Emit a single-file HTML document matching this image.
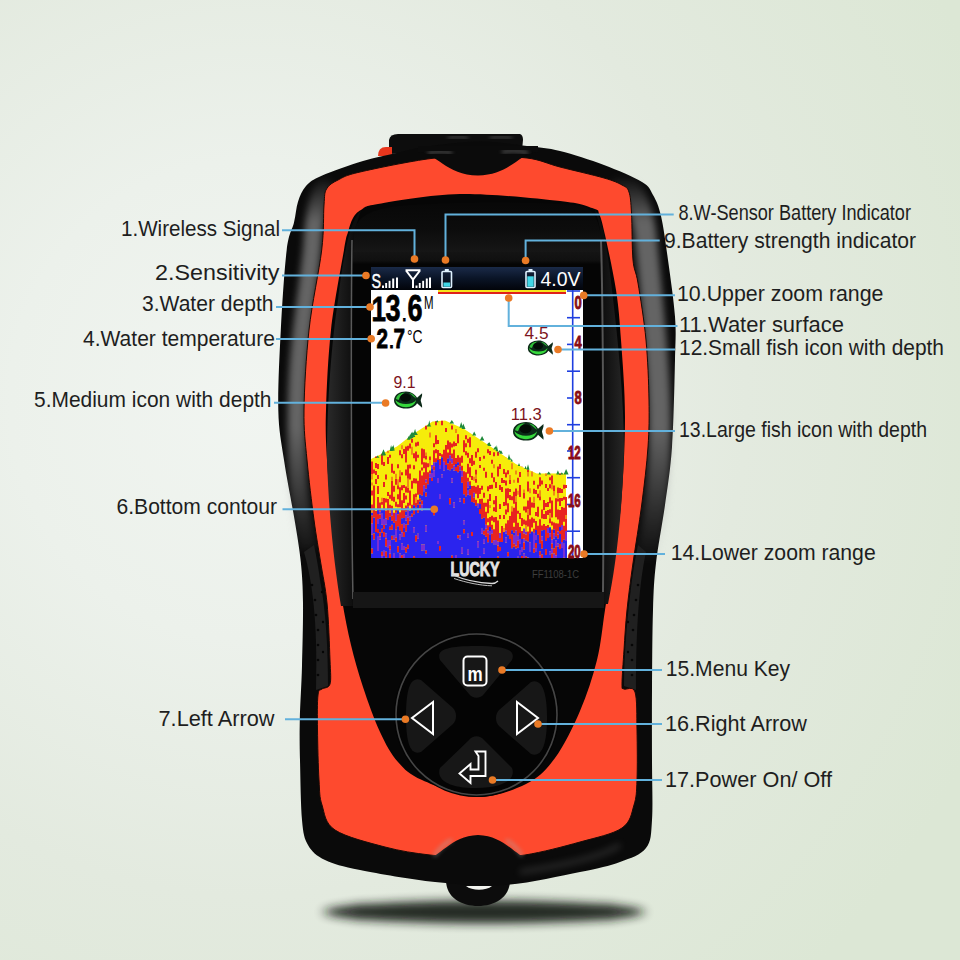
<!DOCTYPE html>
<html><head><meta charset="utf-8">
<style>
html,body{margin:0;padding:0;width:960px;height:960px;overflow:hidden;background:#e3e9df}
svg{position:absolute;left:0;top:0;display:block}
text{font-family:"Liberation Sans",sans-serif}
.lb{font-size:22.5px;fill:#1e1e1e}
.ld{stroke:#62b1dc;stroke-width:2;fill:none}
.dt{fill:#ea7a25}
</style></head><body>
<svg width="960" height="960" viewBox="0 0 960 960">
<defs>
 <radialGradient id="bg" cx="250" cy="400" r="800" gradientUnits="userSpaceOnUse">
  <stop offset="0" stop-color="#f1f5f1"/>
  <stop offset="0.3" stop-color="#ecf1eb"/>
  <stop offset="0.62" stop-color="#e3eadf"/>
  <stop offset="1" stop-color="#dce7d5"/>
 </radialGradient>
 <filter id="blur6" x="-20%" y="-200%" width="140%" height="500%"><feGaussianBlur stdDeviation="6 5"/></filter>
 <filter id="blur3" x="-50%" y="-50%" width="200%" height="200%"><feGaussianBlur stdDeviation="3.5"/></filter>
 <filter id="blur2" x="-20%" y="-20%" width="140%" height="140%"><feGaussianBlur stdDeviation="2"/></filter>
 <linearGradient id="shg" x1="0" y1="175" x2="0" y2="565" gradientUnits="userSpaceOnUse"><stop offset="0" stop-color="#a0a0a0" stop-opacity="0"/><stop offset="0.12" stop-color="#a0a0a0" stop-opacity="1"/><stop offset="0.65" stop-color="#a0a0a0" stop-opacity="1"/><stop offset="1" stop-color="#a0a0a0" stop-opacity="0"/></linearGradient>
 <linearGradient id="rimL" x1="327" y1="0" x2="353" y2="0" gradientUnits="userSpaceOnUse"><stop offset="0" stop-color="#2a2a2a"/><stop offset="1" stop-color="#0e0e0e"/></linearGradient>
 <linearGradient id="rimR" x1="603" y1="0" x2="624" y2="0" gradientUnits="userSpaceOnUse"><stop offset="0" stop-color="#0e0e0e"/><stop offset="1" stop-color="#262626"/></linearGradient>
 <linearGradient id="glass" x1="0" y1="205" x2="0" y2="600" gradientUnits="userSpaceOnUse"><stop offset="0" stop-color="#080808"/><stop offset="0.06" stop-color="#0c0c0c"/><stop offset="0.12" stop-color="#161616"/><stop offset="0.12" stop-color="#141414"/><stop offset="0.14" stop-color="#101010"/><stop offset="0.15" stop-color="#050505"/><stop offset="1" stop-color="#050505"/></linearGradient>
 <linearGradient id="sbar" x1="0" y1="0" x2="0" y2="1">
  <stop offset="0" stop-color="#1a2a48"/><stop offset="0.5" stop-color="#0a1426"/><stop offset="1" stop-color="#02040a"/>
 </linearGradient>
</defs>
<rect width="960" height="960" fill="url(#bg)"/>
<!-- shadow -->
<g filter="url(#blur6)" opacity="0.92"><ellipse cx="484" cy="912" rx="160" ry="11.5" fill="#161a14"/><rect x="350" y="904" width="268" height="16" rx="8" fill="#161a14"/></g>

<!-- device -->
<g id="device">
 <!-- lanyard loop -->
 <path d="M446,880 C446,898 462,906 478,906 C494,906 510,898 510,880 Z" fill="#0c0c0c"/>
 <path d="M466,886 C472,891 486,891 492,886 Z" fill="#f2f4ef"/>
 <!-- top clip -->
 <path d="M389,154 L389,140 Q390,134 398,134 L520,134 Q523,135 523,140 L522,150 Z" fill="#0d0d0d"/>
 <path d="M378,156 Q378,147 386,147 L392,147 L392,156 Z" fill="#e8361d"/>
 <!-- outer body -->
 <path id="body" d="M480.0,141.5 C496.9,141.4 513.7,144.4 527.0,146.0 C540.3,147.6 547.2,147.8 560.0,151.0 C572.8,154.2 590.3,159.8 604.0,165.0 C617.7,170.2 633.8,177.0 642.0,182.0 C650.2,187.0 649.8,189.3 653.0,195.0 C656.2,200.7 658.5,205.2 661.0,216.0 C663.5,226.8 665.7,243.2 668.0,260.0 C670.3,276.8 673.8,300.0 675.0,316.7 C676.2,333.4 675.5,338.3 675.0,360.0 C674.5,381.7 673.7,422.8 672.0,447.0 C670.3,471.2 667.7,485.7 665.0,505.0 C662.3,524.3 658.0,545.5 656.0,563.0 C654.0,580.5 653.7,588.8 653.0,610.0 C652.3,631.2 652.2,665.0 652.0,690.0 C651.8,715.0 652.0,738.3 652.0,760.0 C652.0,781.7 653.0,805.3 652.0,820.0 C651.0,834.7 651.3,841.0 646.0,848.0 C640.7,855.0 631.0,858.0 620.0,862.0 C609.0,866.0 599.2,868.2 580.0,872.0 C560.8,875.8 529.2,883.3 505.0,885.0 C480.8,886.7 459.2,884.5 435.0,882.0 C410.8,879.5 378.3,873.7 360.0,870.0 C341.7,866.3 333.7,864.2 325.0,860.0 C316.3,855.8 311.8,851.7 308.0,845.0 C304.2,838.3 303.3,834.2 302.0,820.0 C300.7,805.8 300.4,776.7 300.0,760.0 C299.6,743.3 299.5,735.7 299.8,720.0 C300.1,704.3 301.5,685.5 302.0,666.0 C302.5,646.5 303.2,620.3 303.0,603.0 C302.8,585.7 302.2,575.8 300.8,562.0 C299.4,548.2 297.4,537.0 294.6,520.0 C291.8,503.0 286.7,478.3 284.0,460.0 C281.3,441.7 278.8,431.7 278.3,410.0 C277.8,388.3 279.4,356.7 280.8,330.0 C282.2,303.3 284.5,267.9 286.7,250.0 C288.9,232.1 292.1,230.6 294.0,222.5 C295.9,214.4 296.0,207.8 298.0,201.7 C300.0,195.6 302.1,190.3 306.0,186.0 C309.9,181.7 312.2,180.0 321.7,175.8 C331.2,171.6 350.5,164.8 363.0,161.0 C375.5,157.2 386.2,155.4 396.7,153.0 C407.2,150.6 411.9,148.6 425.8,146.7 C439.7,144.8 463.1,141.6 480.0,141.5 Z" fill="#0a0a0a"/>
 <!-- glossy highlights on black -->
 <path d="M330,180 C318,190 314,215 312,250 C308,290 302,320 299,360 C296,400 296,440 298,480 C300,510 304,530 308,550" stroke="url(#shg)" stroke-width="18" fill="none" opacity="0.6" filter="url(#blur3)"/>
 <path d="M615,176 C635,188 643,210 646,240 C650,280 654,320 657,360 C660,400 661,440 658,480 C656,510 652,535 646,560" stroke="url(#shg)" stroke-width="22" fill="none" opacity="0.6" filter="url(#blur3)"/>
 <path d="M304,552 C312,580 318,620 316,690 L328,686 C328,650 326,610 320,580 C318,565 316,555 314,545 Z" fill="#202020"/>
 <path d="M646,552 C640,580 636,620 636,690 L624,686 C624,650 628,610 632,580 C634,565 636,555 638,545 Z" fill="#202020"/>
 <g fill="#060606"><circle cx="312" cy="585" r="1.3"/><circle cx="315" cy="600" r="1.3"/><circle cx="316" cy="615" r="1.3"/><circle cx="318" cy="630" r="1.3"/><circle cx="318" cy="645" r="1.3"/><circle cx="318" cy="660" r="1.3"/><circle cx="318" cy="675" r="1.3"/><circle cx="322" cy="592" r="1.2"/><circle cx="323" cy="622" r="1.2"/><circle cx="323" cy="652" r="1.2"/>
 <circle cx="638" cy="585" r="1.3"/><circle cx="636" cy="600" r="1.3"/><circle cx="634" cy="615" r="1.3"/><circle cx="633" cy="630" r="1.3"/><circle cx="632" cy="645" r="1.3"/><circle cx="632" cy="660" r="1.3"/><circle cx="632" cy="675" r="1.3"/><circle cx="629" cy="592" r="1.2"/><circle cx="628" cy="622" r="1.2"/><circle cx="628" cy="652" r="1.2"/></g>
 <path d="M620,845 C600,858 560,866 520,872" stroke="#777" stroke-width="4" fill="none" opacity="0.35" filter="url(#blur3)"/>
 <!-- red frame -->
 <path id="red" d="M478.0,157.0 C494.0,156.9 513.3,156.3 527.0,158.0 C540.7,159.7 547.2,163.7 560.0,167.0 C572.8,170.3 593.7,175.0 604.0,178.0 C614.3,181.0 617.8,182.7 622.0,185.0 C626.2,187.3 627.4,187.3 629.0,192.0 C630.6,196.7 630.8,201.7 631.5,213.0 C632.2,224.3 631.9,248.3 633.0,260.0 C634.1,271.7 635.8,269.7 638.0,283.0 C640.2,296.3 644.2,320.5 646.0,340.0 C647.8,359.5 648.7,382.2 649.0,400.0 C649.3,417.8 649.2,429.5 648.0,447.0 C646.8,464.5 644.2,485.7 641.7,505.0 C639.2,524.3 635.5,545.5 633.0,563.0 C630.5,580.5 628.5,595.5 627.0,610.0 C625.5,624.5 624.8,637.7 624.0,650.0 C623.2,662.3 622.0,677.5 622.0,684.0 C622.0,690.5 621.8,687.7 624.0,689.0 C626.2,690.3 632.8,685.2 635.0,692.0 C637.2,698.8 636.7,715.3 637.0,730.0 C637.3,744.7 637.5,767.5 637.0,780.0 C636.5,792.5 636.5,797.0 634.0,805.0 C631.5,813.0 631.0,821.8 622.0,828.0 C613.0,834.2 596.2,837.5 580.0,842.0 C563.8,846.5 542.0,852.3 525.0,855.0 C508.0,857.7 493.8,858.0 478.0,858.0 C462.2,858.0 445.5,856.8 430.0,855.0 C414.5,853.2 400.8,851.2 385.0,847.0 C369.2,842.8 345.5,837.0 335.0,830.0 C324.5,823.0 324.7,813.3 322.0,805.0 C319.3,796.7 319.8,792.5 319.0,780.0 C318.2,767.5 317.7,744.2 317.5,730.0 C317.3,715.8 317.2,701.8 318.0,695.0 C318.8,688.2 320.0,690.8 322.0,689.0 C324.0,687.2 328.7,688.8 330.0,684.0 C331.3,679.2 330.5,673.5 330.0,660.0 C329.5,646.5 328.6,619.3 327.0,603.0 C325.4,586.7 322.8,575.8 320.6,562.0 C318.4,548.2 316.3,537.0 314.0,520.0 C311.7,503.0 308.7,478.3 307.0,460.0 C305.3,441.7 303.7,431.7 304.0,410.0 C304.3,388.3 306.1,356.7 309.0,330.0 C311.9,303.3 319.2,270.8 321.7,250.0 C324.2,229.2 323.2,215.2 324.0,205.0 C324.8,194.8 324.2,193.2 326.5,189.0 C328.8,184.8 332.4,182.8 338.0,180.0 C343.6,177.2 344.5,175.6 360.0,172.0 C375.5,168.4 411.3,161.0 431.0,158.5 C450.7,156.0 462.0,157.1 478.0,157.0 Z" fill="#fe4a2e" stroke="#1a0a06" stroke-width="1"/>
 <!-- red bottom shading -->
 <!-- inner black (screen surround + keypad) -->
 <path id="inner" d="M460.0,194.0 C490.3,193.5 537.8,198.6 560.0,201.0 C582.2,203.4 586.9,206.3 593.5,208.5 C600.1,210.7 597.5,210.0 599.4,214.4 C601.3,218.8 602.2,222.4 605.0,235.0 C607.8,247.6 613.3,272.5 616.0,290.0 C618.7,307.5 619.5,318.8 621.0,340.0 C622.5,361.2 625.0,390.0 625.0,417.5 C625.0,445.0 623.1,480.8 621.0,505.0 C618.9,529.2 615.2,545.5 612.5,563.0 C609.8,580.5 607.6,593.8 605.0,610.0 C602.4,626.2 601.2,643.2 597.0,660.0 C592.8,676.8 587.0,694.7 580.0,711.0 C573.0,727.3 564.0,745.8 555.0,758.0 C546.0,770.2 539.2,777.5 526.0,784.0 C512.8,790.5 493.3,797.7 476.0,797.0 C458.7,796.3 435.0,785.8 422.0,780.0 C409.0,774.2 405.0,770.0 398.0,762.0 C391.0,754.0 385.8,744.5 380.0,732.0 C374.2,719.5 367.8,701.5 363.0,687.0 C358.2,672.5 354.4,659.0 351.0,645.0 C347.6,631.0 345.0,616.8 342.5,603.0 C340.0,589.2 337.8,575.8 336.0,562.0 C334.2,548.2 333.5,537.0 332.0,520.0 C330.5,503.0 328.0,478.3 327.0,460.0 C326.0,441.7 325.3,431.7 326.0,410.0 C326.7,388.3 328.0,356.7 331.0,330.0 C334.0,303.3 341.2,266.3 344.0,250.0 C346.8,233.7 346.5,237.3 348.0,232.0 C349.5,226.7 350.8,221.7 353.0,218.0 C355.2,214.3 356.8,212.3 361.0,210.0 C365.2,207.7 361.5,206.7 378.0,204.0 C394.5,201.3 429.7,194.5 460.0,194.0 Z" fill="#060606"/>
 <!-- bezel rims -->
 <path d="M361,210 C350,222 344,250 338,300 C332,340 327,400 327,460 C329,520 335,570 341,606 L353,606 C352,560 351,270 354,232 Z" fill="url(#rimL)"/>
 <path d="M594,209 C601,215 606,235 612,290 C618,340 624,400 624,450 C622,520 615,570 608,604 L603,604 C605,560 604,300 602,245 C600,222 596,212 594,209 Z" fill="url(#rimR)"/>
 <!-- top notch -->
 <path d="M418,152 C436,152 446,175.5 478,175.5 C510,175.5 520,152 538,152 L538,146 L418,146 Z" fill="#0b0b0b"/>
 <path d="M428,153 Q440,150 452,153" stroke="#888" stroke-width="2.5" fill="none" opacity="0.7" filter="url(#blur2)"/>
 <path d="M394,138 L394,148" stroke="#999" stroke-width="2" opacity="0.5" filter="url(#blur2)"/>
 <path d="M448,138 Q458,136 468,138 M490,138 Q500,136 512,138" stroke="#aaa" stroke-width="2" fill="none" opacity="0.5" filter="url(#blur2)"/>
 <path d="M502,152 Q516,149 528,153" stroke="#888" stroke-width="2.5" fill="none" opacity="0.7" filter="url(#blur2)"/>
 <!-- bottom hump -->
 <path d="M424,860 C440,858 450,836 478,835 C506,836 516,858 532,860 Z" fill="#0b0b0b"/>
 <path d="M434,856 C440,848 446,842 452,840" stroke="#aaa" stroke-width="3" fill="none" opacity="0.55" filter="url(#blur2)"/>
 <path d="M506,840 C512,843 518,849 522,856" stroke="#aaa" stroke-width="3" fill="none" opacity="0.55" filter="url(#blur2)"/>
 <!-- screen glass -->
 <path d="M354,232 C357,216 372,209 400,206 C470,201 555,202 582,206 C594,209 600,222 602,245 C604,300 605,560 604,592 L353,599 C352,560 351,270 354,232 Z" fill="url(#glass)"/>
 <path d="M352,240 C351,300 351,500 353,599" stroke="#5a5a5a" stroke-width="1.5" fill="none"/>
 <path d="M601,240 C603,300 604,500 603,594" stroke="#6a6a6a" stroke-width="2" fill="none" opacity="0.8"/>
 <rect x="353" y="592" width="251" height="16" fill="#161616"/>
 <!-- display -->
 <rect x="371" y="267" width="212" height="23" fill="url(#sbar)"/>
 <rect x="371" y="290" width="212" height="268" fill="#ffffff"/>
 <g id="sonar">
<polygon points="371,459 397,446.5 411.7,435 432.5,421.5 445,420.4 463.75,428.75 495,449.6 515.8,464 536.7,473.5 566,473.5 566,558 371,558" fill="#f6ec0a"/>
<path fill="#e82420" d="M371 461.5h2v3.0h-2zM371 464.5h2v5.0h-2zM371 469.5h2v5.0h-2zM371 490.5h2v5.0h-2zM371 504.5h2v5.0h-2zM371 515.5h2v4.0h-2zM371 519.5h2v4.0h-2zM371 548.5h2v5.0h-2zM373 469.6h2v4.0h-2zM373 485.6h2v3.0h-2zM373 488.6h2v5.0h-2zM373 493.6h2v4.0h-2zM373 497.6h2v5.0h-2zM373 502.6h2v6.0h-2zM373 508.6h2v5.0h-2zM373 513.6h2v4.0h-2zM373 533.6h2v6.0h-2zM375 456.6h2v1.3h-2zM375 462.9h2v5.0h-2zM375 470.9h2v4.0h-2zM375 478.9h2v5.0h-2zM375 510.9h2v4.0h-2zM375 514.9h2v4.0h-2zM375 518.9h2v4.0h-2zM375 522.9h2v5.0h-2zM375 527.9h2v4.0h-2zM377 464.0h2v5.0h-2zM377 475.0h2v4.0h-2zM377 486.0h2v3.0h-2zM377 489.0h2v5.0h-2zM377 497.0h2v5.0h-2zM377 502.0h2v4.0h-2zM377 506.0h2v4.0h-2zM377 514.0h2v5.0h-2zM377 529.0h2v4.0h-2zM379 502.6h2v4.0h-2zM379 506.6h2v5.0h-2zM379 514.6h2v4.0h-2zM379 532.6h2v4.0h-2zM381 453.7h2v5.0h-2zM381 458.7h2v6.0h-2zM381 501.7h2v3.0h-2zM381 528.7h2v4.0h-2zM381 551.7h2v4.0h-2zM383 462.0h2v4.0h-2zM383 482.0h2v5.0h-2zM383 498.0h2v4.0h-2zM383 502.0h2v5.0h-2zM383 507.0h2v3.0h-2zM383 525.0h2v4.0h-2zM383 532.0h2v5.0h-2zM385 474.4h2v5.0h-2zM385 498.4h2v4.0h-2zM385 510.4h2v3.0h-2zM385 513.4h2v5.0h-2zM385 538.4h2v4.0h-2zM385 542.4h2v4.0h-2zM385 551.4h2v6.0h-2zM387 456.9h2v3.0h-2zM387 459.9h2v4.0h-2zM387 491.9h2v4.0h-2zM387 498.9h2v4.0h-2zM387 502.9h2v3.0h-2zM387 505.9h2v3.0h-2zM387 508.9h2v4.0h-2zM387 512.9h2v4.0h-2zM387 516.9h2v3.0h-2zM389 454.8h2v3.0h-2zM389 494.8h2v4.0h-2zM389 504.8h2v4.0h-2zM389 512.8h2v4.0h-2zM389 526.8h2v3.0h-2zM389 545.8h2v4.0h-2zM389 553.8h2v4.2h-2zM391 463.8h2v4.0h-2zM391 467.8h2v5.0h-2zM391 480.8h2v3.0h-2zM391 483.8h2v3.0h-2zM391 486.8h2v5.0h-2zM391 491.8h2v3.0h-2zM391 494.8h2v6.0h-2zM391 505.8h2v4.0h-2zM391 515.8h2v5.0h-2zM391 524.8h2v5.0h-2zM391 535.8h2v4.0h-2zM393 470.7h2v3.0h-2zM393 485.7h2v6.0h-2zM393 496.7h2v5.0h-2zM393 512.7h2v5.0h-2zM393 517.7h2v5.0h-2zM395 478.8h2v6.0h-2zM395 501.8h2v5.0h-2zM395 509.8h2v3.0h-2zM395 520.8h2v5.0h-2zM395 525.8h2v4.0h-2zM395 537.8h2v4.0h-2zM397 464.2h2v4.0h-2zM397 485.2h2v4.0h-2zM397 494.2h2v5.0h-2zM397 504.2h2v3.0h-2zM397 514.2h2v4.0h-2zM397 518.2h2v4.0h-2zM397 522.2h2v4.0h-2zM397 546.2h2v6.0h-2zM399 450.3h2v5.0h-2zM399 476.3h2v6.0h-2zM399 487.3h2v5.0h-2zM399 492.3h2v6.0h-2zM399 498.3h2v4.0h-2zM399 502.3h2v5.0h-2zM399 512.3h2v5.0h-2zM399 517.3h2v5.0h-2zM399 522.3h2v3.0h-2zM399 525.3h2v5.0h-2zM401 454.3h2v4.0h-2zM401 472.3h2v3.0h-2zM401 485.3h2v5.0h-2zM401 500.3h2v5.0h-2zM401 505.3h2v3.0h-2zM401 508.3h2v4.0h-2zM401 512.3h2v6.0h-2zM401 524.3h2v5.0h-2zM401 529.3h2v3.0h-2zM401 555.3h2v2.7h-2zM403 449.1h2v5.0h-2zM403 485.1h2v3.0h-2zM403 493.1h2v6.0h-2zM403 499.1h2v4.0h-2zM403 508.1h2v4.0h-2zM403 512.1h2v6.0h-2zM403 532.1h2v5.0h-2zM405 446.6h2v6.0h-2zM405 452.6h2v5.0h-2zM405 457.6h2v5.0h-2zM405 469.6h2v6.0h-2zM405 486.6h2v6.0h-2zM405 495.6h2v4.0h-2zM405 505.6h2v6.0h-2zM405 524.6h2v3.0h-2zM405 527.6h2v4.0h-2zM405 547.6h2v5.0h-2zM407 445.8h2v5.0h-2zM407 464.8h2v5.0h-2zM407 469.8h2v3.0h-2zM407 472.8h2v6.0h-2zM407 487.8h2v5.0h-2zM407 502.8h2v4.0h-2zM407 517.8h2v3.0h-2zM407 520.8h2v4.0h-2zM407 544.8h2v4.0h-2zM409 443.5h2v5.0h-2zM409 464.5h2v4.0h-2zM409 473.5h2v3.0h-2zM409 476.5h2v3.0h-2zM409 490.5h2v4.0h-2zM409 494.5h2v5.0h-2zM409 499.5h2v6.0h-2zM411 434.8h2v0.0h-2zM411 438.8h2v4.0h-2zM411 480.8h2v4.0h-2zM411 484.8h2v4.0h-2zM411 504.8h2v5.0h-2zM411 513.8h2v3.0h-2zM413 453.3h2v5.0h-2zM413 465.3h2v4.0h-2zM413 478.3h2v5.0h-2zM413 494.3h2v4.0h-2zM413 498.3h2v4.0h-2zM413 502.3h2v3.0h-2zM413 510.3h2v4.0h-2zM413 556.3h2v1.7h-2zM415 442.4h2v4.0h-2zM415 451.4h2v6.0h-2zM415 457.4h2v4.0h-2zM415 478.4h2v5.0h-2zM415 493.4h2v4.0h-2zM415 502.4h2v5.0h-2zM415 535.4h2v6.0h-2zM417 441.7h2v4.0h-2zM417 454.7h2v3.0h-2zM417 480.7h2v4.0h-2zM417 484.7h2v5.0h-2zM417 489.7h2v5.0h-2zM417 499.7h2v5.0h-2zM417 508.7h2v4.0h-2zM419 470.4h2v6.0h-2zM419 476.4h2v4.0h-2zM419 480.4h2v6.0h-2zM419 486.4h2v5.0h-2zM419 491.4h2v3.0h-2zM419 498.4h2v3.0h-2zM419 504.4h2v4.0h-2zM421 448.4h2v4.0h-2zM421 452.4h2v3.0h-2zM421 455.4h2v5.0h-2zM421 460.4h2v4.0h-2zM421 467.4h2v3.0h-2zM421 475.4h2v4.0h-2zM421 479.4h2v4.0h-2zM421 483.4h2v6.0h-2zM421 489.4h2v6.0h-2zM421 500.4h2v4.0h-2zM423 449.2h2v4.0h-2zM423 453.2h2v5.0h-2zM423 462.2h2v6.0h-2zM423 472.2h2v4.0h-2zM423 476.2h2v5.0h-2zM423 481.2h2v4.0h-2zM425 425.7h2v3.9h-2zM425 455.6h2v4.0h-2zM425 462.6h2v6.0h-2zM425 468.6h2v6.0h-2zM425 474.6h2v5.0h-2zM425 482.6h2v6.0h-2zM425 492.6h2v4.0h-2zM425 550.6h2v3.0h-2zM427 463.3h2v4.0h-2zM427 472.3h2v6.0h-2zM427 478.3h2v6.0h-2zM429 456.4h2v4.0h-2zM429 470.4h2v3.0h-2zM431 477.9h2v3.0h-2zM433 443.3h2v4.0h-2zM433 450.3h2v6.0h-2zM433 456.3h2v6.0h-2zM433 466.3h2v4.0h-2zM433 510.3h2v5.0h-2zM435 421.2h2v4.0h-2zM435 435.2h2v5.0h-2zM435 440.2h2v4.0h-2zM435 449.2h2v4.0h-2zM435 458.2h2v4.0h-2zM437 440.1h2v4.0h-2zM437 450.1h2v4.0h-2zM437 454.1h2v6.0h-2zM439 453.0h2v3.0h-2zM439 459.0h2v6.0h-2zM439 546.0h2v5.0h-2zM441 420.7h2v4.6h-2zM441 454.3h2v3.0h-2zM443 449.7h2v4.0h-2zM443 453.7h2v5.0h-2zM443 458.7h2v3.0h-2zM445 428.1h2v4.0h-2zM445 445.1h2v4.0h-2zM445 449.1h2v3.0h-2zM445 452.1h2v5.0h-2zM445 457.1h2v3.0h-2zM445 460.1h2v5.0h-2zM447 440.6h2v5.0h-2zM447 445.6h2v4.0h-2zM447 452.6h2v6.0h-2zM447 463.6h2v6.0h-2zM449 442.2h2v3.0h-2zM449 445.2h2v5.0h-2zM449 450.2h2v5.0h-2zM449 461.2h2v5.0h-2zM449 466.2h2v4.0h-2zM449 498.2h2v6.0h-2zM451 425.4h2v4.0h-2zM451 443.4h2v4.0h-2zM451 453.4h2v5.0h-2zM451 463.4h2v5.0h-2zM451 555.4h2v2.6h-2zM453 441.6h2v5.0h-2zM453 449.6h2v3.0h-2zM453 452.6h2v5.0h-2zM453 457.6h2v5.0h-2zM453 462.6h2v3.0h-2zM455 443.0h2v3.0h-2zM455 458.0h2v6.0h-2zM455 467.0h2v4.0h-2zM457 434.2h2v5.0h-2zM457 439.2h2v4.0h-2zM457 455.2h2v4.0h-2zM457 459.2h2v3.0h-2zM457 465.2h2v4.0h-2zM457 469.2h2v3.0h-2zM457 535.2h2v3.0h-2zM459 457.5h2v5.0h-2zM459 462.5h2v4.0h-2zM461 455.8h2v3.0h-2zM461 458.8h2v4.0h-2zM461 465.8h2v5.0h-2zM461 476.8h2v6.0h-2zM463 440.3h2v4.0h-2zM463 444.3h2v5.0h-2zM463 449.3h2v3.0h-2zM463 471.3h2v4.0h-2zM463 475.3h2v4.0h-2zM463 479.3h2v4.0h-2zM463 483.3h2v6.0h-2zM463 489.3h2v5.0h-2zM463 498.3h2v5.0h-2zM463 529.3h2v4.0h-2zM465 435.3h2v4.0h-2zM465 443.3h2v4.0h-2zM465 451.3h2v4.0h-2zM465 472.3h2v4.0h-2zM465 476.3h2v5.0h-2zM465 481.3h2v4.0h-2zM465 485.3h2v5.0h-2zM465 490.3h2v6.0h-2zM467 438.8h2v4.0h-2zM467 452.8h2v5.0h-2zM467 463.8h2v4.0h-2zM467 467.8h2v6.0h-2zM467 477.8h2v4.0h-2zM469 437.2h2v6.0h-2zM469 443.2h2v4.0h-2zM469 458.2h2v5.0h-2zM469 467.2h2v4.0h-2zM469 471.2h2v6.0h-2zM469 481.2h2v4.0h-2zM469 489.2h2v6.0h-2zM471 455.0h2v5.0h-2zM471 460.0h2v6.0h-2zM471 476.0h2v4.0h-2zM471 486.0h2v5.0h-2zM471 491.0h2v5.0h-2zM471 496.0h2v6.0h-2zM471 532.0h2v4.0h-2zM473 460.7h2v4.0h-2zM473 485.7h2v4.0h-2zM473 489.7h2v3.0h-2zM473 497.7h2v5.0h-2zM475 451.8h2v6.0h-2zM475 469.8h2v5.0h-2zM475 478.8h2v4.0h-2zM475 486.8h2v4.0h-2zM475 490.8h2v3.0h-2zM475 499.8h2v6.0h-2zM477 448.2h2v4.0h-2zM477 485.2h2v5.0h-2zM477 490.2h2v3.0h-2zM477 493.2h2v5.0h-2zM479 456.9h2v4.0h-2zM479 464.9h2v3.0h-2zM479 487.9h2v6.0h-2zM479 498.9h2v5.0h-2zM479 508.9h2v5.0h-2zM481 485.8h2v4.0h-2zM481 498.8h2v6.0h-2zM481 504.8h2v5.0h-2zM481 509.8h2v4.0h-2zM481 513.8h2v5.0h-2zM483 455.8h2v3.0h-2zM483 467.8h2v3.0h-2zM483 492.8h2v5.0h-2zM483 502.8h2v4.0h-2zM483 506.8h2v4.0h-2zM483 510.8h2v4.0h-2zM483 514.8h2v3.0h-2zM483 530.8h2v4.0h-2zM485 471.8h2v6.0h-2zM485 502.8h2v4.0h-2zM485 511.8h2v4.0h-2zM485 515.8h2v4.0h-2zM485 519.8h2v5.0h-2zM485 528.8h2v4.0h-2zM485 532.8h2v4.0h-2zM487 449.2h2v4.0h-2zM487 486.2h2v5.0h-2zM487 499.2h2v4.0h-2zM487 503.2h2v5.0h-2zM487 508.2h2v5.0h-2zM487 518.2h2v4.0h-2zM487 525.2h2v5.0h-2zM487 533.2h2v5.0h-2zM487 538.2h2v4.0h-2zM489 451.0h2v4.0h-2zM489 485.0h2v4.0h-2zM489 494.0h2v4.0h-2zM489 498.0h2v3.0h-2zM489 517.0h2v5.0h-2zM489 522.0h2v5.0h-2zM491 459.8h2v4.0h-2zM491 472.8h2v5.0h-2zM491 484.8h2v4.0h-2zM491 515.8h2v5.0h-2zM491 524.8h2v5.0h-2zM491 533.8h2v3.0h-2zM491 536.8h2v6.0h-2zM493 452.2h2v4.0h-2zM493 477.2h2v5.0h-2zM493 500.2h2v4.0h-2zM493 507.2h2v4.0h-2zM493 517.2h2v5.0h-2zM493 529.2h2v6.0h-2zM493 535.2h2v5.0h-2zM495 482.1h2v6.0h-2zM495 496.1h2v6.0h-2zM495 502.1h2v3.0h-2zM495 505.1h2v4.0h-2zM495 509.1h2v3.0h-2zM495 517.1h2v5.0h-2zM495 522.1h2v4.0h-2zM495 526.1h2v5.0h-2zM495 531.1h2v6.0h-2zM495 537.1h2v3.0h-2zM497 451.7h2v4.0h-2zM497 466.6h2v4.0h-2zM497 470.6h2v6.0h-2zM497 520.6h2v6.0h-2zM497 526.6h2v5.0h-2zM497 531.6h2v4.0h-2zM497 535.6h2v6.0h-2zM497 545.6h2v6.0h-2zM497 556.6h2v1.4h-2zM499 464.0h2v5.0h-2zM499 485.0h2v5.0h-2zM499 504.0h2v5.0h-2zM499 515.0h2v4.0h-2zM499 538.0h2v4.0h-2zM499 547.0h2v4.0h-2zM501 478.0h2v5.0h-2zM501 487.0h2v5.0h-2zM501 526.0h2v5.0h-2zM501 531.0h2v6.0h-2zM501 537.0h2v5.0h-2zM503 469.1h2v5.0h-2zM503 480.1h2v3.0h-2zM503 502.1h2v4.0h-2zM503 515.1h2v4.0h-2zM505 472.5h2v5.0h-2zM505 480.5h2v5.0h-2zM505 488.5h2v6.0h-2zM505 494.5h2v5.0h-2zM505 499.5h2v6.0h-2zM505 509.5h2v5.0h-2zM505 523.5h2v3.0h-2zM505 526.5h2v4.0h-2zM507 470.2h2v4.0h-2zM507 488.2h2v6.0h-2zM507 494.2h2v4.0h-2zM507 503.2h2v5.0h-2zM507 508.2h2v4.0h-2zM507 520.2h2v6.0h-2zM507 526.2h2v5.0h-2zM507 531.2h2v4.0h-2zM507 552.2h2v4.0h-2zM509 480.1h2v4.0h-2zM509 489.1h2v3.0h-2zM509 495.1h2v5.0h-2zM509 516.1h2v6.0h-2zM509 522.1h2v4.0h-2zM509 526.1h2v4.0h-2zM509 530.1h2v6.0h-2zM509 536.1h2v3.0h-2zM511 496.3h2v4.0h-2zM511 511.3h2v4.0h-2zM511 515.3h2v6.0h-2zM511 521.3h2v6.0h-2zM511 527.3h2v3.0h-2zM511 534.3h2v5.0h-2zM511 539.3h2v5.0h-2zM511 544.3h2v4.0h-2zM513 491.7h2v4.0h-2zM513 495.7h2v5.0h-2zM513 500.7h2v3.0h-2zM513 507.7h2v3.0h-2zM513 510.7h2v4.0h-2zM513 514.7h2v4.0h-2zM513 518.7h2v4.0h-2zM513 526.7h2v6.0h-2zM513 543.7h2v3.0h-2zM515 488.6h2v4.0h-2zM515 492.6h2v4.0h-2zM515 501.6h2v5.0h-2zM515 506.6h2v5.0h-2zM515 511.6h2v5.0h-2zM515 516.6h2v5.0h-2zM515 521.6h2v4.0h-2zM515 525.6h2v5.0h-2zM515 545.6h2v3.0h-2zM517 477.7h2v5.0h-2zM517 510.7h2v3.0h-2zM517 522.7h2v4.0h-2zM517 526.7h2v5.0h-2zM517 531.7h2v4.0h-2zM517 540.7h2v3.0h-2zM517 543.7h2v4.0h-2zM519 472.1h2v5.0h-2zM519 485.1h2v6.0h-2zM519 491.1h2v6.0h-2zM519 513.1h2v6.0h-2zM519 527.1h2v6.0h-2zM521 466.8h2v0.2h-2zM521 518.0h2v4.0h-2zM521 522.0h2v4.0h-2zM521 531.0h2v3.0h-2zM521 534.0h2v5.0h-2zM521 556.0h2v2.0h-2zM523 492.5h2v6.0h-2zM523 506.5h2v4.0h-2zM523 519.5h2v5.0h-2zM523 533.5h2v5.0h-2zM523 542.5h2v3.0h-2zM523 545.5h2v4.0h-2zM525 506.6h2v6.0h-2zM525 520.6h2v5.0h-2zM525 534.6h2v6.0h-2zM525 556.6h2v1.4h-2zM527 469.5h2v3.0h-2zM527 481.6h2v5.0h-2zM527 486.6h2v5.0h-2zM527 500.6h2v4.0h-2zM527 504.6h2v5.0h-2zM527 514.6h2v6.0h-2zM527 520.6h2v6.0h-2zM527 531.6h2v6.0h-2zM527 537.6h2v4.0h-2zM529 497.2h2v5.0h-2zM529 502.2h2v4.0h-2zM529 506.2h2v4.0h-2zM529 510.2h2v5.0h-2zM529 519.2h2v5.0h-2zM529 524.2h2v5.0h-2zM529 529.2h2v4.0h-2zM531 502.5h2v5.0h-2zM531 517.5h2v6.0h-2zM531 523.5h2v4.0h-2zM533 480.7h2v4.0h-2zM533 488.7h2v5.0h-2zM533 502.7h2v5.0h-2zM533 518.7h2v4.0h-2zM533 528.7h2v4.0h-2zM533 548.7h2v4.0h-2zM535 490.0h2v4.0h-2zM535 512.0h2v4.0h-2zM535 521.0h2v4.0h-2zM535 525.0h2v5.0h-2zM535 543.0h2v5.0h-2zM537 484.8h2v4.0h-2zM537 493.8h2v4.0h-2zM537 506.8h2v5.0h-2zM537 511.8h2v5.0h-2zM537 525.8h2v5.0h-2zM537 530.8h2v4.0h-2zM539 477.2h2v4.0h-2zM539 481.2h2v5.0h-2zM539 496.2h2v4.0h-2zM539 519.2h2v3.0h-2zM539 522.2h2v4.0h-2zM539 526.2h2v6.0h-2zM539 532.2h2v6.0h-2zM539 538.2h2v5.0h-2zM539 551.2h2v4.0h-2zM541 480.4h2v4.0h-2zM541 509.4h2v5.0h-2zM541 514.4h2v4.0h-2zM541 525.4h2v5.0h-2zM541 540.4h2v5.0h-2zM541 545.4h2v3.0h-2zM541 554.4h2v3.6h-2zM543 500.1h2v3.0h-2zM543 503.1h2v4.0h-2zM543 507.1h2v3.0h-2zM543 514.1h2v5.0h-2zM543 524.1h2v6.0h-2zM545 484.1h2v4.0h-2zM545 503.1h2v4.0h-2zM545 511.1h2v3.0h-2zM545 514.1h2v5.0h-2zM545 526.1h2v6.0h-2zM545 532.1h2v5.0h-2zM545 537.1h2v4.0h-2zM545 549.1h2v6.0h-2zM547 488.0h2v3.0h-2zM547 502.0h2v5.0h-2zM547 510.0h2v5.0h-2zM547 525.0h2v3.0h-2zM547 533.0h2v5.0h-2zM549 477.2h2v3.0h-2zM549 484.2h2v4.0h-2zM549 497.2h2v3.0h-2zM549 500.2h2v3.0h-2zM549 509.2h2v4.0h-2zM549 518.2h2v5.0h-2zM551 475.4h2v4.0h-2zM551 479.4h2v5.0h-2zM551 500.4h2v4.0h-2zM551 504.4h2v4.0h-2zM551 508.4h2v5.0h-2zM551 513.4h2v4.0h-2zM551 521.4h2v4.0h-2zM551 529.4h2v3.0h-2zM551 532.4h2v3.0h-2zM551 535.4h2v4.0h-2zM551 543.4h2v5.0h-2zM551 553.4h2v4.6h-2zM553 485.5h2v6.0h-2zM553 522.5h2v4.0h-2zM553 526.5h2v3.0h-2zM553 548.5h2v5.0h-2zM555 498.3h2v5.0h-2zM555 503.3h2v3.0h-2zM555 506.3h2v5.0h-2zM555 511.3h2v6.0h-2zM555 523.3h2v5.0h-2zM555 528.3h2v4.0h-2zM555 532.3h2v4.0h-2zM555 546.3h2v5.0h-2zM555 551.3h2v4.0h-2zM557 487.5h2v6.0h-2zM557 498.5h2v3.0h-2zM557 509.5h2v4.0h-2zM557 513.5h2v6.0h-2zM557 523.5h2v4.0h-2zM557 527.5h2v4.0h-2zM557 534.5h2v4.0h-2zM559 473.5h2v1.6h-2zM559 488.1h2v5.0h-2zM559 498.1h2v5.0h-2zM559 503.1h2v3.0h-2zM559 510.1h2v5.0h-2zM559 515.1h2v3.0h-2zM559 518.1h2v4.0h-2zM559 522.1h2v5.0h-2zM559 531.1h2v3.0h-2zM559 544.1h2v5.0h-2zM561 489.0h2v4.0h-2zM561 498.0h2v3.0h-2zM561 507.0h2v3.0h-2zM561 510.0h2v5.0h-2zM561 515.0h2v4.0h-2zM561 519.0h2v6.0h-2zM561 530.0h2v6.0h-2zM561 536.0h2v6.0h-2zM563 484.8h2v4.0h-2zM563 496.8h2v3.0h-2zM563 507.8h2v5.0h-2zM563 512.8h2v3.0h-2zM563 515.8h2v6.0h-2zM563 525.8h2v4.0h-2zM563 529.8h2v4.0h-2zM563 533.8h2v6.0h-2zM563 557.8h2v0.2h-2zM565 485.0h2v3.0h-2zM565 497.0h2v6.0h-2zM565 503.0h2v4.0h-2zM565 507.0h2v3.0h-2zM565 510.0h2v5.0h-2zM565 519.0h2v4.0h-2zM565 523.0h2v3.0h-2zM565 526.0h2v5.0h-2z"/>
<path fill="#2b24ee" d="M371 512.5h2v3.0h-2zM371 534.5h2v5.0h-2zM371 539.5h2v4.0h-2zM371 543.5h2v5.0h-2zM371 553.5h2v4.0h-2zM371 557.5h2v0.5h-2zM373 517.6h2v4.0h-2zM373 521.6h2v5.0h-2zM373 526.6h2v3.0h-2zM373 529.6h2v4.0h-2zM373 539.6h2v6.0h-2zM373 545.6h2v6.0h-2zM373 551.6h2v6.0h-2zM373 557.6h2v0.4h-2zM375 531.9h2v5.0h-2zM375 536.9h2v5.0h-2zM375 541.9h2v4.0h-2zM375 545.9h2v5.0h-2zM375 550.9h2v6.0h-2zM375 556.9h2v1.1h-2zM377 510.0h2v4.0h-2zM377 524.0h2v5.0h-2zM377 533.0h2v3.0h-2zM377 551.0h2v5.0h-2zM377 556.0h2v2.0h-2zM379 518.6h2v4.0h-2zM379 522.6h2v4.0h-2zM379 526.6h2v6.0h-2zM379 539.6h2v4.0h-2zM379 543.6h2v5.0h-2zM379 548.6h2v5.0h-2zM379 553.6h2v4.4h-2zM381 509.7h2v4.0h-2zM381 524.7h2v4.0h-2zM381 532.7h2v6.0h-2zM381 538.7h2v5.0h-2zM381 543.7h2v4.0h-2zM381 547.7h2v4.0h-2zM383 510.0h2v4.0h-2zM383 514.0h2v5.0h-2zM383 529.0h2v3.0h-2zM383 537.0h2v3.0h-2zM383 540.0h2v5.0h-2zM383 545.0h2v5.0h-2zM383 556.0h2v2.0h-2zM385 524.4h2v4.0h-2zM385 528.4h2v5.0h-2zM385 546.4h2v5.0h-2zM385 557.4h2v0.6h-2zM387 519.9h2v4.0h-2zM387 523.9h2v5.0h-2zM387 528.9h2v4.0h-2zM387 532.9h2v3.0h-2zM387 535.9h2v4.0h-2zM387 547.9h2v4.0h-2zM387 551.9h2v5.0h-2zM387 556.9h2v1.1h-2zM389 516.8h2v6.0h-2zM389 522.8h2v4.0h-2zM389 529.8h2v5.0h-2zM389 534.8h2v6.0h-2zM391 520.8h2v4.0h-2zM391 529.8h2v6.0h-2zM391 539.8h2v6.0h-2zM391 545.8h2v6.0h-2zM391 551.8h2v6.0h-2zM391 557.8h2v0.2h-2zM393 522.7h2v6.0h-2zM393 528.7h2v3.0h-2zM393 531.7h2v4.0h-2zM393 539.7h2v6.0h-2zM393 545.7h2v5.0h-2zM393 550.7h2v3.0h-2zM395 541.8h2v6.0h-2zM395 547.8h2v3.0h-2zM395 550.8h2v4.0h-2zM395 554.8h2v3.2h-2zM397 510.2h2v4.0h-2zM397 526.2h2v4.0h-2zM397 530.2h2v5.0h-2zM397 535.2h2v6.0h-2zM397 541.2h2v5.0h-2zM397 552.2h2v5.8h-2zM399 530.3h2v4.0h-2zM399 539.3h2v3.0h-2zM399 542.3h2v5.0h-2zM399 547.3h2v6.0h-2zM401 518.3h2v6.0h-2zM401 536.3h2v3.0h-2zM401 539.3h2v4.0h-2zM401 549.3h2v6.0h-2zM403 518.1h2v5.0h-2zM403 528.1h2v4.0h-2zM403 537.1h2v5.0h-2zM403 542.1h2v4.0h-2zM403 550.1h2v4.0h-2zM405 511.6h2v4.0h-2zM405 520.6h2v4.0h-2zM405 531.6h2v5.0h-2zM405 536.6h2v3.0h-2zM405 539.6h2v4.0h-2zM405 543.6h2v4.0h-2zM405 552.6h2v5.4h-2zM407 524.8h2v6.0h-2zM407 530.8h2v5.0h-2zM407 535.8h2v5.0h-2zM407 540.8h2v4.0h-2zM407 548.8h2v6.0h-2zM407 554.8h2v3.2h-2zM409 510.5h2v6.0h-2zM409 520.5h2v5.0h-2zM409 525.5h2v4.0h-2zM409 529.5h2v4.0h-2zM409 533.5h2v4.0h-2zM409 537.5h2v4.0h-2zM409 541.5h2v5.0h-2zM409 546.5h2v3.0h-2zM409 549.5h2v4.0h-2zM409 553.5h2v4.0h-2zM409 557.5h2v0.5h-2zM411 509.8h2v4.0h-2zM411 516.8h2v5.0h-2zM411 521.8h2v3.0h-2zM411 524.8h2v5.0h-2zM411 529.8h2v4.0h-2zM411 533.8h2v3.0h-2zM411 536.8h2v5.0h-2zM411 541.8h2v5.0h-2zM411 546.8h2v6.0h-2zM411 552.8h2v3.0h-2zM411 555.8h2v2.2h-2zM413 505.3h2v5.0h-2zM413 514.3h2v3.0h-2zM413 517.3h2v5.0h-2zM413 522.3h2v5.0h-2zM413 532.3h2v6.0h-2zM413 538.3h2v4.0h-2zM413 542.3h2v4.0h-2zM413 546.3h2v5.0h-2zM413 551.3h2v5.0h-2zM415 507.4h2v5.0h-2zM415 512.4h2v5.0h-2zM415 517.4h2v5.0h-2zM415 522.4h2v3.0h-2zM415 525.4h2v5.0h-2zM415 530.4h2v5.0h-2zM415 541.4h2v6.0h-2zM415 547.4h2v6.0h-2zM415 553.4h2v4.6h-2zM417 504.7h2v4.0h-2zM417 512.7h2v3.0h-2zM417 515.7h2v5.0h-2zM417 520.7h2v4.0h-2zM417 524.7h2v5.0h-2zM417 529.7h2v4.0h-2zM417 538.7h2v4.0h-2zM417 542.7h2v5.0h-2zM417 547.7h2v5.0h-2zM417 552.7h2v3.0h-2zM417 555.7h2v2.3h-2zM419 494.4h2v4.0h-2zM419 501.4h2v3.0h-2zM419 508.4h2v4.0h-2zM419 512.4h2v5.0h-2zM419 517.4h2v5.0h-2zM419 522.4h2v4.0h-2zM419 526.4h2v5.0h-2zM419 531.4h2v3.0h-2zM419 534.4h2v4.0h-2zM419 538.4h2v5.0h-2zM419 543.4h2v6.0h-2zM419 549.4h2v6.0h-2zM419 555.4h2v2.6h-2zM421 495.4h2v5.0h-2zM421 510.4h2v6.0h-2zM421 516.4h2v6.0h-2zM421 522.4h2v5.0h-2zM421 527.4h2v6.0h-2zM421 533.4h2v3.0h-2zM421 536.4h2v5.0h-2zM421 541.4h2v3.0h-2zM421 550.4h2v4.0h-2zM421 554.4h2v3.6h-2zM423 491.2h2v6.0h-2zM423 497.2h2v5.0h-2zM423 502.2h2v5.0h-2zM423 507.2h2v3.0h-2zM423 510.2h2v6.0h-2zM423 516.2h2v4.0h-2zM423 520.2h2v5.0h-2zM423 525.2h2v3.0h-2zM423 528.2h2v4.0h-2zM423 532.2h2v3.0h-2zM423 535.2h2v5.0h-2zM423 540.2h2v4.0h-2zM423 550.2h2v3.0h-2zM423 553.2h2v4.8h-2zM425 488.6h2v4.0h-2zM425 496.6h2v4.0h-2zM425 500.6h2v3.0h-2zM425 503.6h2v4.0h-2zM425 507.6h2v5.0h-2zM425 512.6h2v4.0h-2zM425 516.6h2v3.0h-2zM425 519.6h2v3.0h-2zM425 522.6h2v3.0h-2zM425 531.6h2v5.0h-2zM425 536.6h2v3.0h-2zM425 539.6h2v4.0h-2zM425 543.6h2v3.0h-2zM425 546.6h2v4.0h-2zM425 553.6h2v4.4h-2zM427 484.3h2v4.0h-2zM427 488.3h2v5.0h-2zM427 493.3h2v5.0h-2zM427 498.3h2v6.0h-2zM427 504.3h2v5.0h-2zM427 509.3h2v5.0h-2zM427 514.3h2v5.0h-2zM427 519.3h2v4.0h-2zM427 523.3h2v5.0h-2zM427 528.3h2v5.0h-2zM427 533.3h2v6.0h-2zM427 539.3h2v5.0h-2zM427 544.3h2v4.0h-2zM427 548.3h2v4.0h-2zM427 552.3h2v5.7h-2zM429 477.4h2v4.0h-2zM429 481.4h2v5.0h-2zM429 486.4h2v3.0h-2zM429 489.4h2v3.0h-2zM429 492.4h2v5.0h-2zM429 497.4h2v3.0h-2zM429 500.4h2v5.0h-2zM429 505.4h2v5.0h-2zM429 510.4h2v4.0h-2zM429 514.4h2v4.0h-2zM429 518.4h2v6.0h-2zM429 524.4h2v6.0h-2zM429 530.4h2v5.0h-2zM429 535.4h2v5.0h-2zM429 540.4h2v5.0h-2zM429 545.4h2v6.0h-2zM429 551.4h2v6.0h-2zM429 557.4h2v0.6h-2zM431 468.9h2v4.0h-2zM431 480.9h2v5.0h-2zM431 485.9h2v6.0h-2zM431 491.9h2v4.0h-2zM431 495.9h2v3.0h-2zM431 498.9h2v5.0h-2zM431 503.9h2v6.0h-2zM431 509.9h2v3.0h-2zM431 512.9h2v4.0h-2zM431 516.9h2v5.0h-2zM431 521.9h2v5.0h-2zM431 526.9h2v6.0h-2zM431 532.9h2v5.0h-2zM431 537.9h2v3.0h-2zM431 540.9h2v5.0h-2zM431 545.9h2v3.0h-2zM431 548.9h2v5.0h-2zM431 553.9h2v3.0h-2zM431 556.9h2v1.1h-2zM433 476.3h2v5.0h-2zM433 481.3h2v4.0h-2zM433 485.3h2v6.0h-2zM433 491.3h2v5.0h-2zM433 496.3h2v4.0h-2zM433 500.3h2v5.0h-2zM433 505.3h2v5.0h-2zM433 515.3h2v6.0h-2zM433 521.3h2v4.0h-2zM433 525.3h2v4.0h-2zM433 529.3h2v5.0h-2zM433 534.3h2v6.0h-2zM433 540.3h2v4.0h-2zM433 544.3h2v4.0h-2zM433 548.3h2v3.0h-2zM433 551.3h2v5.0h-2zM433 556.3h2v1.7h-2zM435 462.2h2v6.0h-2zM435 468.2h2v3.0h-2zM435 471.2h2v5.0h-2zM435 476.2h2v4.0h-2zM435 480.2h2v6.0h-2zM435 486.2h2v3.0h-2zM435 489.2h2v5.0h-2zM435 494.2h2v3.0h-2zM435 497.2h2v4.0h-2zM435 501.2h2v4.0h-2zM435 505.2h2v5.0h-2zM435 510.2h2v5.0h-2zM435 515.2h2v6.0h-2zM435 521.2h2v5.0h-2zM435 526.2h2v5.0h-2zM435 531.2h2v3.0h-2zM435 534.2h2v4.0h-2zM435 538.2h2v5.0h-2zM435 543.2h2v4.0h-2zM435 547.2h2v4.0h-2zM435 551.2h2v6.0h-2zM435 557.2h2v0.8h-2zM437 460.1h2v5.0h-2zM437 465.1h2v5.0h-2zM437 470.1h2v4.0h-2zM437 474.1h2v4.0h-2zM437 483.1h2v4.0h-2zM437 487.1h2v5.0h-2zM437 492.1h2v5.0h-2zM437 497.1h2v5.0h-2zM437 502.1h2v4.0h-2zM437 506.1h2v3.0h-2zM437 509.1h2v4.0h-2zM437 513.1h2v4.0h-2zM437 517.1h2v6.0h-2zM437 523.1h2v3.0h-2zM437 526.1h2v5.0h-2zM437 531.1h2v5.0h-2zM437 536.1h2v5.0h-2zM437 544.1h2v5.0h-2zM437 549.1h2v6.0h-2zM437 555.1h2v2.9h-2zM439 469.0h2v5.0h-2zM439 474.0h2v4.0h-2zM439 478.0h2v3.0h-2zM439 481.0h2v5.0h-2zM439 486.0h2v5.0h-2zM439 491.0h2v3.0h-2zM439 499.0h2v3.0h-2zM439 502.0h2v5.0h-2zM439 507.0h2v5.0h-2zM439 512.0h2v3.0h-2zM439 515.0h2v5.0h-2zM439 520.0h2v6.0h-2zM439 526.0h2v5.0h-2zM439 531.0h2v5.0h-2zM439 536.0h2v6.0h-2zM439 542.0h2v4.0h-2zM439 551.0h2v6.0h-2zM439 557.0h2v1.0h-2zM441 457.3h2v5.0h-2zM441 462.3h2v5.0h-2zM441 467.3h2v4.0h-2zM441 471.3h2v3.0h-2zM441 477.3h2v6.0h-2zM441 483.3h2v5.0h-2zM441 488.3h2v4.0h-2zM441 492.3h2v5.0h-2zM441 497.3h2v5.0h-2zM441 502.3h2v4.0h-2zM441 506.3h2v5.0h-2zM441 511.3h2v5.0h-2zM441 516.3h2v4.0h-2zM441 520.3h2v3.0h-2zM441 523.3h2v6.0h-2zM441 529.3h2v5.0h-2zM441 534.3h2v5.0h-2zM441 539.3h2v5.0h-2zM441 544.3h2v4.0h-2zM441 548.3h2v6.0h-2zM441 554.3h2v3.7h-2zM443 470.7h2v5.0h-2zM443 475.7h2v5.0h-2zM443 480.7h2v3.0h-2zM443 483.7h2v5.0h-2zM443 488.7h2v4.0h-2zM443 492.7h2v6.0h-2zM443 498.7h2v4.0h-2zM443 502.7h2v3.0h-2zM443 505.7h2v5.0h-2zM443 510.7h2v4.0h-2zM443 514.7h2v3.0h-2zM443 517.7h2v5.0h-2zM443 522.7h2v5.0h-2zM443 527.7h2v3.0h-2zM443 530.7h2v5.0h-2zM443 535.7h2v4.0h-2zM443 539.7h2v5.0h-2zM443 544.7h2v5.0h-2zM443 549.7h2v4.0h-2zM443 553.7h2v3.0h-2zM443 556.7h2v1.3h-2zM445 465.1h2v5.0h-2zM445 470.1h2v4.0h-2zM445 474.1h2v5.0h-2zM445 479.1h2v5.0h-2zM445 484.1h2v4.0h-2zM445 488.1h2v4.0h-2zM445 492.1h2v4.0h-2zM445 496.1h2v3.0h-2zM445 499.1h2v5.0h-2zM445 504.1h2v6.0h-2zM445 510.1h2v3.0h-2zM445 513.1h2v6.0h-2zM445 519.1h2v3.0h-2zM445 522.1h2v3.0h-2zM445 525.1h2v5.0h-2zM445 530.1h2v3.0h-2zM445 533.1h2v6.0h-2zM445 539.1h2v4.0h-2zM445 543.1h2v4.0h-2zM445 547.1h2v4.0h-2zM445 551.1h2v4.0h-2zM445 555.1h2v2.9h-2zM447 458.6h2v5.0h-2zM447 469.6h2v4.0h-2zM447 473.6h2v5.0h-2zM447 478.6h2v5.0h-2zM447 483.6h2v5.0h-2zM447 488.6h2v4.0h-2zM447 492.6h2v3.0h-2zM447 495.6h2v4.0h-2zM447 499.6h2v4.0h-2zM447 503.6h2v4.0h-2zM447 507.6h2v5.0h-2zM447 512.6h2v6.0h-2zM447 518.6h2v5.0h-2zM447 523.6h2v5.0h-2zM447 528.6h2v6.0h-2zM447 534.6h2v4.0h-2zM447 538.6h2v4.0h-2zM447 542.6h2v6.0h-2zM447 548.6h2v4.0h-2zM447 552.6h2v3.0h-2zM447 555.6h2v2.4h-2zM449 470.2h2v4.0h-2zM449 474.2h2v5.0h-2zM449 479.2h2v4.0h-2zM449 483.2h2v3.0h-2zM449 486.2h2v5.0h-2zM449 491.2h2v3.0h-2zM449 494.2h2v4.0h-2zM449 504.2h2v5.0h-2zM449 509.2h2v4.0h-2zM449 513.2h2v5.0h-2zM449 518.2h2v4.0h-2zM449 522.2h2v5.0h-2zM449 527.2h2v5.0h-2zM449 532.2h2v4.0h-2zM449 536.2h2v4.0h-2zM449 540.2h2v4.0h-2zM449 544.2h2v3.0h-2zM449 547.2h2v6.0h-2zM449 553.2h2v4.0h-2zM449 557.2h2v0.8h-2zM451 468.4h2v6.0h-2zM451 474.4h2v4.0h-2zM451 482.4h2v6.0h-2zM451 488.4h2v5.0h-2zM451 493.4h2v4.0h-2zM451 497.4h2v5.0h-2zM451 502.4h2v3.0h-2zM451 505.4h2v6.0h-2zM451 511.4h2v4.0h-2zM451 515.4h2v5.0h-2zM451 520.4h2v3.0h-2zM451 523.4h2v3.0h-2zM451 526.4h2v5.0h-2zM451 531.4h2v3.0h-2zM451 534.4h2v5.0h-2zM451 539.4h2v4.0h-2zM451 543.4h2v4.0h-2zM451 547.4h2v4.0h-2zM451 551.4h2v4.0h-2zM453 470.6h2v5.0h-2zM453 475.6h2v4.0h-2zM453 479.6h2v5.0h-2zM453 484.6h2v5.0h-2zM453 489.6h2v3.0h-2zM453 492.6h2v5.0h-2zM453 497.6h2v5.0h-2zM453 507.6h2v3.0h-2zM453 510.6h2v4.0h-2zM453 514.6h2v4.0h-2zM453 518.6h2v5.0h-2zM453 523.6h2v4.0h-2zM453 527.6h2v5.0h-2zM453 532.6h2v5.0h-2zM453 537.6h2v6.0h-2zM453 543.6h2v4.0h-2zM453 547.6h2v6.0h-2zM453 553.6h2v4.0h-2zM453 557.6h2v0.4h-2zM455 464.0h2v3.0h-2zM455 471.0h2v3.0h-2zM455 474.0h2v3.0h-2zM455 477.0h2v4.0h-2zM455 481.0h2v4.0h-2zM455 485.0h2v5.0h-2zM455 490.0h2v5.0h-2zM455 495.0h2v3.0h-2zM455 498.0h2v5.0h-2zM455 503.0h2v5.0h-2zM455 508.0h2v4.0h-2zM455 512.0h2v5.0h-2zM455 517.0h2v4.0h-2zM455 521.0h2v3.0h-2zM455 524.0h2v4.0h-2zM455 528.0h2v5.0h-2zM455 533.0h2v4.0h-2zM455 537.0h2v4.0h-2zM455 541.0h2v4.0h-2zM455 545.0h2v5.0h-2zM455 550.0h2v5.0h-2zM457 462.2h2v3.0h-2zM457 472.2h2v5.0h-2zM457 477.2h2v3.0h-2zM457 480.2h2v6.0h-2zM457 486.2h2v4.0h-2zM457 490.2h2v6.0h-2zM457 496.2h2v6.0h-2zM457 502.2h2v5.0h-2zM457 507.2h2v5.0h-2zM457 512.2h2v6.0h-2zM457 518.2h2v5.0h-2zM457 523.2h2v6.0h-2zM457 529.2h2v6.0h-2zM457 538.2h2v5.0h-2zM457 543.2h2v5.0h-2zM457 548.2h2v5.0h-2zM457 553.2h2v4.0h-2zM457 557.2h2v0.8h-2zM459 470.5h2v5.0h-2zM459 475.5h2v5.0h-2zM459 480.5h2v4.0h-2zM459 484.5h2v5.0h-2zM459 489.5h2v4.0h-2zM459 493.5h2v5.0h-2zM459 501.5h2v4.0h-2zM459 505.5h2v5.0h-2zM459 510.5h2v5.0h-2zM459 515.5h2v5.0h-2zM459 520.5h2v5.0h-2zM459 525.5h2v5.0h-2zM459 530.5h2v5.0h-2zM459 539.5h2v6.0h-2zM459 545.5h2v3.0h-2zM459 548.5h2v5.0h-2zM459 553.5h2v4.5h-2zM461 482.8h2v5.0h-2zM461 487.8h2v5.0h-2zM461 492.8h2v5.0h-2zM461 497.8h2v5.0h-2zM461 502.8h2v4.0h-2zM461 506.8h2v3.0h-2zM461 509.8h2v5.0h-2zM461 514.8h2v5.0h-2zM461 519.8h2v6.0h-2zM461 525.8h2v6.0h-2zM461 531.8h2v3.0h-2zM461 534.8h2v6.0h-2zM461 540.8h2v4.0h-2zM461 544.8h2v3.0h-2zM461 553.8h2v4.0h-2zM461 557.8h2v0.2h-2zM463 494.3h2v4.0h-2zM463 503.3h2v4.0h-2zM463 507.3h2v5.0h-2zM463 512.3h2v3.0h-2zM463 515.3h2v5.0h-2zM463 524.3h2v5.0h-2zM463 533.3h2v5.0h-2zM463 538.3h2v5.0h-2zM463 543.3h2v5.0h-2zM463 548.3h2v3.0h-2zM463 551.3h2v5.0h-2zM463 556.3h2v1.7h-2zM465 496.3h2v4.0h-2zM465 500.3h2v4.0h-2zM465 504.3h2v4.0h-2zM465 508.3h2v4.0h-2zM465 512.3h2v5.0h-2zM465 517.3h2v4.0h-2zM465 521.3h2v4.0h-2zM465 525.3h2v5.0h-2zM465 530.3h2v5.0h-2zM465 535.3h2v5.0h-2zM465 540.3h2v4.0h-2zM465 544.3h2v6.0h-2zM465 550.3h2v6.0h-2zM465 556.3h2v1.7h-2zM467 487.8h2v3.0h-2zM467 494.8h2v4.0h-2zM467 498.8h2v6.0h-2zM467 504.8h2v4.0h-2zM467 508.8h2v6.0h-2zM467 514.8h2v4.0h-2zM467 518.8h2v5.0h-2zM467 523.8h2v6.0h-2zM467 529.8h2v4.0h-2zM467 537.8h2v6.0h-2zM467 543.8h2v6.0h-2zM467 554.8h2v3.2h-2zM469 485.2h2v4.0h-2zM469 495.2h2v5.0h-2zM469 500.2h2v5.0h-2zM469 505.2h2v3.0h-2zM469 508.2h2v6.0h-2zM469 514.2h2v3.0h-2zM469 517.2h2v5.0h-2zM469 522.2h2v3.0h-2zM469 525.2h2v6.0h-2zM469 531.2h2v4.0h-2zM469 535.2h2v4.0h-2zM469 539.2h2v3.0h-2zM469 542.2h2v6.0h-2zM469 548.2h2v6.0h-2zM469 554.2h2v3.8h-2zM471 502.0h2v4.0h-2zM471 506.0h2v3.0h-2zM471 509.0h2v4.0h-2zM471 513.0h2v4.0h-2zM471 517.0h2v4.0h-2zM471 521.0h2v6.0h-2zM471 527.0h2v5.0h-2zM471 536.0h2v6.0h-2zM471 542.0h2v6.0h-2zM471 548.0h2v4.0h-2zM471 552.0h2v6.0h-2zM471 558.0h2v0.0h-2zM473 502.7h2v6.0h-2zM473 508.7h2v6.0h-2zM473 514.7h2v3.0h-2zM473 517.7h2v5.0h-2zM473 522.7h2v5.0h-2zM473 527.7h2v4.0h-2zM473 531.7h2v6.0h-2zM473 537.7h2v5.0h-2zM473 542.7h2v6.0h-2zM473 548.7h2v6.0h-2zM473 554.7h2v3.3h-2zM475 505.8h2v3.0h-2zM475 508.8h2v5.0h-2zM475 513.8h2v6.0h-2zM475 519.8h2v4.0h-2zM475 523.8h2v6.0h-2zM475 529.8h2v6.0h-2zM475 535.8h2v4.0h-2zM475 539.8h2v5.0h-2zM475 544.8h2v3.0h-2zM475 547.8h2v5.0h-2zM475 552.8h2v5.2h-2zM477 507.2h2v5.0h-2zM477 512.2h2v3.0h-2zM477 515.2h2v4.0h-2zM477 519.2h2v4.0h-2zM477 523.2h2v5.0h-2zM477 528.2h2v5.0h-2zM477 533.2h2v4.0h-2zM477 537.2h2v4.0h-2zM477 547.2h2v4.0h-2zM477 551.2h2v6.0h-2zM477 557.2h2v0.8h-2zM479 503.9h2v5.0h-2zM479 513.9h2v5.0h-2zM479 518.9h2v6.0h-2zM479 524.9h2v3.0h-2zM479 527.9h2v6.0h-2zM479 533.9h2v5.0h-2zM479 538.9h2v5.0h-2zM479 543.9h2v4.0h-2zM479 547.9h2v3.0h-2zM479 550.9h2v5.0h-2zM481 518.8h2v6.0h-2zM481 524.8h2v4.0h-2zM481 533.8h2v5.0h-2zM481 538.8h2v3.0h-2zM481 541.8h2v3.0h-2zM481 544.8h2v4.0h-2zM481 548.8h2v4.0h-2zM481 552.8h2v5.2h-2zM483 517.8h2v4.0h-2zM483 521.8h2v4.0h-2zM483 525.8h2v5.0h-2zM483 534.8h2v5.0h-2zM483 543.8h2v5.0h-2zM483 553.8h2v4.0h-2zM483 557.8h2v0.2h-2zM485 536.8h2v6.0h-2zM485 542.8h2v5.0h-2zM485 547.8h2v4.0h-2zM485 551.8h2v5.0h-2zM485 556.8h2v1.2h-2zM487 542.2h2v4.0h-2zM487 546.2h2v3.0h-2zM487 549.2h2v3.0h-2zM487 552.2h2v4.0h-2zM487 556.2h2v1.8h-2zM489 527.0h2v4.0h-2zM489 535.0h2v5.0h-2zM489 540.0h2v6.0h-2zM489 546.0h2v5.0h-2zM489 551.0h2v5.0h-2zM489 556.0h2v2.0h-2zM491 542.8h2v6.0h-2zM491 548.8h2v6.0h-2zM491 554.8h2v3.0h-2zM491 557.8h2v0.2h-2zM493 544.2h2v4.0h-2zM493 548.2h2v3.0h-2zM493 551.2h2v3.0h-2zM493 554.2h2v3.8h-2zM495 545.1h2v3.0h-2zM495 548.1h2v4.0h-2zM495 552.1h2v4.0h-2zM495 556.1h2v1.9h-2zM497 551.6h2v5.0h-2zM499 542.0h2v5.0h-2zM499 551.0h2v5.0h-2zM499 556.0h2v2.0h-2zM501 542.0h2v4.0h-2zM501 546.0h2v5.0h-2zM501 551.0h2v5.0h-2zM501 556.0h2v2.0h-2zM503 532.1h2v6.0h-2zM503 538.1h2v3.0h-2zM503 541.1h2v4.0h-2zM503 545.1h2v3.0h-2zM503 548.1h2v5.0h-2zM503 553.1h2v4.9h-2zM505 533.5h2v4.0h-2zM505 542.5h2v5.0h-2zM505 547.5h2v5.0h-2zM505 552.5h2v4.0h-2zM505 556.5h2v1.5h-2zM507 535.2h2v6.0h-2zM507 541.2h2v3.0h-2zM507 544.2h2v3.0h-2zM507 547.2h2v5.0h-2zM507 556.2h2v1.8h-2zM509 539.1h2v4.0h-2zM509 543.1h2v3.0h-2zM509 546.1h2v6.0h-2zM509 552.1h2v5.9h-2zM511 530.3h2v4.0h-2zM511 548.3h2v4.0h-2zM511 552.3h2v5.0h-2zM511 557.3h2v0.7h-2zM513 532.7h2v3.0h-2zM513 546.7h2v5.0h-2zM513 551.7h2v5.0h-2zM513 556.7h2v1.3h-2zM515 548.6h2v3.0h-2zM515 551.6h2v6.0h-2zM515 557.6h2v0.4h-2zM517 547.7h2v5.0h-2zM517 552.7h2v4.0h-2zM519 533.1h2v6.0h-2zM519 544.1h2v6.0h-2zM519 555.1h2v2.9h-2zM521 539.0h2v3.0h-2zM521 542.0h2v5.0h-2zM521 552.0h2v4.0h-2zM523 549.5h2v4.0h-2zM525 540.6h2v5.0h-2zM525 545.6h2v5.0h-2zM525 550.6h2v6.0h-2zM527 541.6h2v5.0h-2zM527 546.6h2v3.0h-2zM527 549.6h2v4.0h-2zM527 553.6h2v4.0h-2zM529 533.2h2v4.0h-2zM529 537.2h2v5.0h-2zM529 551.2h2v4.0h-2zM529 555.2h2v2.8h-2zM531 531.5h2v6.0h-2zM531 537.5h2v3.0h-2zM531 540.5h2v5.0h-2zM531 545.5h2v6.0h-2zM531 551.5h2v5.0h-2zM531 556.5h2v1.5h-2zM533 552.7h2v5.3h-2zM535 530.0h2v5.0h-2zM535 540.0h2v3.0h-2zM535 552.0h2v4.0h-2zM535 556.0h2v2.0h-2zM537 534.8h2v5.0h-2zM537 539.8h2v5.0h-2zM537 544.8h2v6.0h-2zM537 550.8h2v5.0h-2zM537 555.8h2v2.2h-2zM539 543.2h2v4.0h-2zM539 547.2h2v4.0h-2zM541 530.4h2v6.0h-2zM541 548.4h2v6.0h-2zM543 530.1h2v5.0h-2zM543 535.1h2v5.0h-2zM543 540.1h2v3.0h-2zM543 543.1h2v4.0h-2zM543 547.1h2v6.0h-2zM543 553.1h2v4.0h-2zM543 557.1h2v0.9h-2zM545 541.1h2v5.0h-2zM545 546.1h2v3.0h-2zM545 555.1h2v2.9h-2zM547 538.0h2v6.0h-2zM547 544.0h2v4.0h-2zM547 548.0h2v3.0h-2zM547 551.0h2v3.0h-2zM547 554.0h2v4.0h-2zM549 527.2h2v6.0h-2zM549 536.2h2v3.0h-2zM549 539.2h2v3.0h-2zM549 542.2h2v4.0h-2zM549 546.2h2v5.0h-2zM549 554.2h2v3.8h-2zM553 529.5h2v4.0h-2zM553 538.5h2v6.0h-2zM553 544.5h2v4.0h-2zM555 536.3h2v4.0h-2zM557 538.5h2v5.0h-2zM557 546.5h2v4.0h-2zM557 550.5h2v5.0h-2zM557 555.5h2v2.5h-2zM559 527.1h2v4.0h-2zM559 534.1h2v5.0h-2zM559 539.1h2v5.0h-2zM559 549.1h2v5.0h-2zM559 554.1h2v3.9h-2zM561 548.0h2v5.0h-2zM561 553.0h2v4.0h-2zM561 557.0h2v1.0h-2zM563 539.8h2v4.0h-2zM565 541.0h2v5.0h-2zM565 546.0h2v4.0h-2zM565 550.0h2v4.0h-2zM565 554.0h2v4.0h-2z"/>
<path fill="#7a2ed2" d="M371 523.5h2v5.0h-2zM371 528.5h2v6.0h-2zM377 519.0h2v5.0h-2zM377 536.0h2v6.0h-2zM377 542.0h2v6.0h-2zM377 548.0h2v3.0h-2zM379 511.6h2v3.0h-2zM379 536.6h2v3.0h-2zM381 513.7h2v5.0h-2zM381 518.7h2v6.0h-2zM381 555.7h2v2.3h-2zM383 519.0h2v3.0h-2zM383 522.0h2v3.0h-2zM383 550.0h2v6.0h-2zM385 518.4h2v6.0h-2zM385 533.4h2v5.0h-2zM387 539.9h2v4.0h-2zM387 543.9h2v4.0h-2zM389 540.8h2v5.0h-2zM389 549.8h2v4.0h-2zM391 509.8h2v6.0h-2zM393 535.7h2v4.0h-2zM393 553.7h2v4.3h-2zM395 512.8h2v3.0h-2zM395 515.8h2v5.0h-2zM395 529.8h2v3.0h-2zM395 532.8h2v5.0h-2zM399 534.3h2v5.0h-2zM399 553.3h2v4.7h-2zM401 532.3h2v4.0h-2zM401 543.3h2v6.0h-2zM403 523.1h2v5.0h-2zM403 546.1h2v4.0h-2zM403 554.1h2v3.9h-2zM405 515.6h2v5.0h-2zM407 506.8h2v5.0h-2zM407 511.8h2v6.0h-2zM409 516.5h2v4.0h-2zM413 527.3h2v5.0h-2zM417 533.7h2v5.0h-2zM421 504.4h2v6.0h-2zM421 544.4h2v6.0h-2zM423 485.2h2v6.0h-2zM423 544.2h2v6.0h-2zM425 479.6h2v3.0h-2zM425 525.6h2v6.0h-2zM429 473.4h2v4.0h-2zM431 464.9h2v4.0h-2zM431 472.9h2v5.0h-2zM433 462.3h2v4.0h-2zM433 470.3h2v6.0h-2zM437 478.1h2v5.0h-2zM437 541.1h2v3.0h-2zM439 465.0h2v4.0h-2zM439 494.0h2v5.0h-2zM441 474.3h2v3.0h-2zM443 461.7h2v4.0h-2zM443 465.7h2v5.0h-2zM449 455.2h2v6.0h-2zM451 458.4h2v5.0h-2zM451 478.4h2v4.0h-2zM453 465.6h2v5.0h-2zM453 502.6h2v5.0h-2zM455 555.0h2v3.0h-2zM459 466.5h2v4.0h-2zM459 498.5h2v3.0h-2zM459 535.5h2v4.0h-2zM461 470.8h2v6.0h-2zM461 547.8h2v6.0h-2zM463 520.3h2v4.0h-2zM467 481.8h2v6.0h-2zM467 490.8h2v4.0h-2zM467 533.8h2v4.0h-2zM467 549.8h2v5.0h-2zM473 492.7h2v5.0h-2zM477 503.2h2v4.0h-2zM477 541.2h2v6.0h-2zM479 555.9h2v2.1h-2zM481 528.8h2v5.0h-2zM483 539.8h2v4.0h-2zM483 548.8h2v5.0h-2zM485 524.8h2v4.0h-2zM487 530.2h2v3.0h-2zM489 531.0h2v4.0h-2zM491 529.8h2v4.0h-2zM493 540.2h2v4.0h-2zM495 540.1h2v5.0h-2zM497 541.6h2v4.0h-2zM499 533.0h2v5.0h-2zM505 530.5h2v3.0h-2zM505 537.5h2v5.0h-2zM513 535.7h2v3.0h-2zM513 538.7h2v5.0h-2zM515 530.6h2v4.0h-2zM515 534.6h2v6.0h-2zM515 540.6h2v5.0h-2zM517 535.7h2v5.0h-2zM517 556.7h2v1.3h-2zM519 539.1h2v5.0h-2zM519 550.1h2v5.0h-2zM521 547.0h2v5.0h-2zM523 528.5h2v5.0h-2zM523 538.5h2v4.0h-2zM523 553.5h2v4.5h-2zM525 531.6h2v3.0h-2zM527 557.6h2v0.4h-2zM529 542.2h2v6.0h-2zM529 548.2h2v3.0h-2zM533 532.7h2v4.0h-2zM533 536.7h2v6.0h-2zM533 542.7h2v6.0h-2zM535 535.0h2v5.0h-2zM535 548.0h2v4.0h-2zM539 555.2h2v2.8h-2zM541 536.4h2v4.0h-2zM547 528.0h2v5.0h-2zM549 533.2h2v3.0h-2zM549 551.2h2v3.0h-2zM551 539.4h2v4.0h-2zM551 548.4h2v5.0h-2zM553 533.5h2v5.0h-2zM553 553.5h2v4.5h-2zM555 540.3h2v6.0h-2zM555 555.3h2v2.7h-2zM557 531.5h2v3.0h-2zM557 543.5h2v3.0h-2zM561 525.0h2v5.0h-2zM561 542.0h2v6.0h-2zM563 543.8h2v4.0h-2zM563 547.8h2v5.0h-2zM563 552.8h2v5.0h-2zM565 531.0h2v5.0h-2zM565 536.0h2v5.0h-2z"/>
<path fill="#f08a18" d="M371 474.5h2v5.0h-2zM371 482.5h2v3.0h-2zM371 509.5h2v3.0h-2zM381 497.7h2v4.0h-2zM387 450.8h2v2.1h-2zM389 508.8h2v4.0h-2zM391 476.8h2v4.0h-2zM395 473.8h2v5.0h-2zM397 479.2h2v6.0h-2zM399 470.3h2v6.0h-2zM401 445.3h2v4.0h-2zM407 478.8h2v5.0h-2zM407 483.8h2v4.0h-2zM411 446.8h2v3.0h-2zM411 449.8h2v5.0h-2zM415 497.4h2v5.0h-2zM425 452.6h2v3.0h-2zM429 432.4h2v5.0h-2zM429 460.4h2v6.0h-2zM455 429.0h2v4.0h-2zM473 476.7h2v4.0h-2zM475 474.8h2v4.0h-2zM489 505.0h2v3.0h-2zM493 464.2h2v4.0h-2zM503 528.1h2v4.0h-2zM505 457.2h2v0.3h-2zM509 475.1h2v5.0h-2zM511 463.3h2v6.0h-2zM511 506.3h2v5.0h-2zM513 479.7h2v3.0h-2zM515 470.6h2v4.0h-2zM515 496.6h2v5.0h-2zM517 490.7h2v4.0h-2zM523 489.5h2v3.0h-2zM525 525.6h2v6.0h-2zM527 472.6h2v4.0h-2zM527 509.6h2v5.0h-2zM529 488.2h2v5.0h-2zM531 471.4h2v5.1h-2zM533 496.7h2v6.0h-2zM539 490.2h2v6.0h-2zM545 473.5h2v2.6h-2zM549 513.2h2v5.0h-2zM551 484.4h2v5.0h-2zM553 491.5h2v4.0h-2zM557 493.5h2v5.0h-2zM565 515.0h2v4.0h-2z"/>
<path fill="#1f8a3a" d="M459.4 427.8l1.8 -5.7l1.8 5.7zM461.9 428.9l1.8 -4.3l1.8 4.3zM408.3 438.7l1.8 -4.5l1.8 4.5zM524.5 468.9l1.1 -3.2l1.1 3.2zM390.3 450.7l2.2 -4.8l2.2 4.8zM381.0 455.2l2.5 -5.9l2.5 5.9zM497.9 452.6l1.9 -2.6l1.9 2.6zM375.9 457.7l1.8 -2.2l1.8 2.2zM409.3 437.9l1.4 -2.1l1.4 2.1zM461.6 428.8l1.7 -5.4l1.7 5.4zM472.2 435.4l2.0 -4.0l2.0 4.0zM499.5 453.7l1.7 -3.1l1.7 3.1zM563.6 474.5l2.5 -5.4l2.5 5.4zM508.2 459.7l1.5 -2.9l1.5 2.9zM428.2 425.3l1.1 -5.1l1.1 5.1zM449.5 423.4l2.3 -3.5l2.3 3.5zM556.0 474.5l2.3 -2.0l2.3 2.0zM413.1 435.1l2.4 -3.9l2.4 3.9zM560.2 474.5l1.6 -2.3l1.6 2.3zM493.2 449.4l2.2 -3.1l2.2 3.1zM389.6 451.0l1.5 -5.9l1.5 5.9zM517.8 465.9l1.2 -3.0l1.2 3.0zM392.3 449.8l1.1 -5.2l1.1 5.2zM406.9 439.7l1.8 -3.8l1.8 3.8zM409.4 437.8l2.1 -2.5l2.1 2.5zM495.9 451.3l1.2 -3.7l1.2 3.7zM413.7 434.7l1.4 -5.9l1.4 5.9zM526.5 469.8l1.5 -5.5l1.5 5.5zM413.2 435.0l1.6 -5.4l1.6 5.4zM495.6 451.0l1.2 -6.0l1.2 6.0zM413.7 434.7l1.4 -5.1l1.4 5.1zM435.8 422.2l1.4 -2.3l1.4 2.3zM390.2 450.8l1.9 -3.0l1.9 3.0zM487.8 445.8l1.6 -3.8l1.6 3.8zM556.2 474.5l1.7 -4.3l1.7 4.3zM538.5 474.5l1.3 -2.6l1.3 2.6zM546.5 474.5l2.2 -3.0l2.2 3.0zM409.3 437.9l2.1 -5.8l2.1 5.8zM410.5 436.9l2.4 -5.5l2.4 5.5zM488.3 446.1l1.6 -2.4l1.6 2.4zM380.4 455.5l2.4 -3.0l2.4 3.0zM507.6 459.3l1.4 -5.3l1.4 5.3zM486.9 445.2l1.4 -2.7l1.4 2.7zM510.6 461.4l1.1 -2.9l1.1 2.9zM479.8 440.5l2.3 -4.5l2.3 4.5zM426.5 426.4l2.4 -2.8l2.4 2.8z"/>
 </g>
 <!-- scale -->
 <g stroke="#1f3fe0" stroke-width="1.6">
  <line x1="572.7" y1="290" x2="572.7" y2="558"/>
  <line x1="567" y1="291" x2="580" y2="291"/>
  <line x1="567" y1="317.7" x2="580" y2="317.7"/>
  <line x1="567" y1="344.4" x2="573" y2="344.4"/>
  <line x1="567" y1="371.2" x2="580" y2="371.2"/>
  <line x1="567" y1="398" x2="573" y2="398"/>
  <line x1="567" y1="424.7" x2="580" y2="424.7"/>
  <line x1="567" y1="451" x2="573" y2="451"/>
  <line x1="567" y1="477.7" x2="580" y2="477.7"/>
  <line x1="567" y1="504.5" x2="573" y2="504.5"/>
  <line x1="567" y1="531.2" x2="580" y2="531.2"/>
 </g>
 <g font-weight="bold" fill="#880c14" stroke="#880c14" stroke-width="0.9" font-size="18.5" text-anchor="middle">
  <text x="0" y="0" transform="translate(578 308.5) scale(0.7 1)">0</text>
  <text x="0" y="0" transform="translate(578 349) scale(0.7 1)">4</text>
  <text x="0" y="0" transform="translate(578 404) scale(0.7 1)">8</text>
  <text x="0" y="0" transform="translate(574.3 458.5) scale(0.62 1)">12</text>
  <text x="0" y="0" transform="translate(574.3 506.5) scale(0.62 1)">16</text>
  <text x="0" y="0" transform="translate(574.3 558) scale(0.62 1)">20</text>
 </g>
 <!-- water surface line -->
 <rect x="438" y="290" width="128" height="2" fill="#f4e41c"/>
 <rect x="438" y="292" width="128" height="2" fill="#e0201a"/>
 <!-- readouts -->
 <g font-weight="bold" fill="#000" stroke="#000" stroke-width="0.8">
  <text x="0" y="0" font-size="36" transform="translate(371.5 320.6) scale(0.72 1)">1</text>
  <text x="0" y="0" font-size="36" transform="translate(385.5 320.6) scale(0.75 1)">3</text>
  <text x="0" y="0" font-size="16" transform="translate(402.5 320.6) scale(0.8 1)">.</text>
  <text x="0" y="0" font-size="36" transform="translate(407.5 320.6) scale(0.75 1)">6</text>
  <text x="0" y="0" font-size="28" transform="translate(376.5 347.5) scale(0.74 1)">2</text>
  <text x="0" y="0" font-size="16" transform="translate(389.5 347.5) scale(0.9 1)">.</text>
  <text x="0" y="0" font-size="28" transform="translate(393.5 347.5) scale(0.74 1)">7</text>
 </g>
 <text x="0" y="0" font-size="18.5" fill="#000" transform="translate(424 309.4) scale(0.62 1)">M</text>
 <text x="0" y="0" font-size="18.5" fill="#000" transform="translate(407 342.5) scale(0.75 1)">°C</text>
 <!-- fish numbers -->
 <g fill="#7c1420" font-size="16.5">
  <text x="524.5" y="338.8" textLength="24" lengthAdjust="spacingAndGlyphs">4.5</text>
  <text x="393.5" y="388.2" textLength="22" lengthAdjust="spacingAndGlyphs">9.1</text>
  <text x="510.8" y="419.8" textLength="31" lengthAdjust="spacingAndGlyphs">11.3</text>
 </g>
 <!-- fish -->
 <defs>
  <g id="fishg">
   <path d="M-13,0.5 C-13,-6 -7,-9.5 0,-9.5 C6,-9.5 10,-6 12,-2.5 L17.5,-7.5 C18,-4 16,-1.5 16,0.5 C16,2 18,5 17.5,8.5 L12,3.5 C10,7 6,9.5 0,9.5 C-7,9.5 -13,6 -13,0.5 Z" fill="#0c2a18"/>
   <path d="M-11.5,0 C-11,5 -6,8 0,8 C6,8 10,5 11,0 C9,3 5,4.5 0,4.5 C-5,4.5 -9,3 -11.5,0 Z" fill="#36d83c"/>
   <path d="M-11,-1 C-10,-5.5 -6,-8 -1,-8.3 C-4,-6.5 -7,-4 -8,0 Z" fill="#30c038"/>
   <path d="M3,-8 C7,-7.5 10,-5 11,-1.5 C9,-3 7,-5 3,-8 Z" fill="#2fb83a"/>
   <ellipse cx="-0.5" cy="-2.5" rx="6" ry="4.5" fill="#040c07"/>
  </g>
 </defs>
 <use href="#fishg" transform="translate(538.5 348) scale(0.82 0.78)"/>
 <use href="#fishg" transform="translate(406 400) scale(0.92 0.9)"/>
 <use href="#fishg" transform="translate(526 431.3) scale(1.0 0.98)"/>
 <!-- status bar icons -->
 <text x="0" y="0" font-size="21" fill="#fff" stroke="#fff" stroke-width="0.5" transform="translate(371.5 288.2) scale(0.68 1)">S</text>
 <g fill="#fff">
  <rect x="382" y="285.5" width="2" height="2.5"/><rect x="385.2" y="283" width="1.9" height="5"/><rect x="388.6" y="280.8" width="1.9" height="7.2"/><rect x="392.2" y="278.5" width="2" height="9.5"/><rect x="396" y="277.5" width="2" height="10.5"/>
  <rect x="415.5" y="285.5" width="2" height="2.5"/><rect x="418.8" y="283" width="1.9" height="5"/><rect x="422.2" y="280.8" width="1.9" height="7.2"/><rect x="425.8" y="278.5" width="2" height="9.5"/><rect x="429" y="277.5" width="2" height="10.5"/>
 </g>
 <path d="M405.5,270.2 L420.5,270.2 M406,270.5 L413,279.5 L420,270.5 M413,278 L413,288" stroke="#fff" stroke-width="2" fill="none"/>
 <rect x="442" y="271.5" width="9.5" height="16" rx="1" fill="none" stroke="#dff2ff" stroke-width="1.6"/>
 <rect x="444.8" y="269" width="4" height="2.6" fill="#dff2ff"/>
 <rect x="443.4" y="282.5" width="6.7" height="4.2" fill="#40d6e6"/>
 <rect x="526" y="271.5" width="9" height="16" rx="1" fill="none" stroke="#dff2ff" stroke-width="1.6"/>
 <rect x="528.5" y="269" width="4" height="2.6" fill="#dff2ff"/>
 <rect x="527.3" y="276.3" width="6.4" height="10.4" fill="#40d6e6"/>
 <text x="540.5" y="286.3" font-size="19.5" fill="#fff" textLength="40" lengthAdjust="spacingAndGlyphs">4.0V</text>
 <!-- logo -->
 <text x="450.5" y="576.2" font-weight="bold" font-size="21" fill="#e4e4e4" stroke="#e4e4e4" stroke-width="1" textLength="49" lengthAdjust="spacingAndGlyphs">LUCKY</text>
 <path d="M452,574.5 C462,579 478,583 492,583.5 C495,583.5 497,582 498,581" stroke="#d8d8d8" stroke-width="1.3" fill="none"/>
 <path d="M454,578.5 C466,582.5 480,585.5 492,585.8" stroke="#bdbdbd" stroke-width="1" fill="none"/>
 <text x="532" y="578.4" font-size="10" fill="#3e3e3e" textLength="47" lengthAdjust="spacingAndGlyphs">FF1108-1C</text>
 <!-- keypad -->
 <circle cx="476.5" cy="714.5" r="82.5" fill="#040404"/>
 <circle cx="476.5" cy="714.5" r="80.5" fill="none" stroke="#454545" stroke-width="1.6"/>
 <g fill="#171717">
  <path d="M440,660 C436,650 446,646 476,646 C506,646 516,650 512,660 L484,694 C480,699 473,699 469,694 Z"/>
  <path d="M440,768 C436,778 446,788 476,788 C506,788 516,778 512,768 L484,740 C480,735 473,735 469,740 Z"/>
  <path d="M421,680 C410,676 406,690 406,716 C406,742 410,756 421,752 L453,724 C457,720 457,712 453,708 Z"/>
  <path d="M531,682 C542,678 547,692 547,718 C547,744 542,758 531,754 L499,726 C495,722 495,714 499,710 Z"/>
 </g>
 <rect x="463.5" y="656.5" width="23" height="29" rx="4" fill="none" stroke="#fff" stroke-width="2"/>
 <text x="0" y="0" font-family="Liberation Serif" font-weight="bold" font-size="19" fill="#fff" text-anchor="middle" transform="translate(475 680.5) scale(0.9 1.05)">m</text>
 <path d="M433,702 L412,718 L433,734 Z" fill="none" stroke="#fff" stroke-width="2"/>
 <path d="M517,702 L538,718 L517,734 Z" fill="none" stroke="#fff" stroke-width="2"/>
 <path d="M475.5,751.5 L485.5,751.5 L485.5,776 L470.5,776 L470.5,783 L459.5,773.5 L470.5,764 L470.5,769.5 L478.5,769.5 L478.5,756 Z" fill="none" stroke="#fff" stroke-width="1.9" stroke-linejoin="miter"/>
</g>

<!-- leader lines -->
<g class="ld">
 <polyline points="282,230.3 414.5,230.3 414.5,259"/>
 <polyline points="282,275.4 366,275.4"/>
 <polyline points="276,307 370,307"/>
 <polyline points="276,339 371,339"/>
 <polyline points="274,402.8 386,402.8"/>
 <polyline points="282.5,509.2 434,509.2"/>
 <polyline points="285,719.3 405,719.3"/>
 <polyline points="445.5,259 445.5,214.4 673.7,214.4"/>
 <polyline points="525.6,259 525.6,240.6 659.7,240.6"/>
 <polyline points="583.7,295.2 675,295.2"/>
 <polyline points="508.7,298 508.7,326.1 677.5,326.1"/>
 <polyline points="558,349.5 675,349.5"/>
 <polyline points="549.4,431 675,431"/>
 <polyline points="584,554 665,554"/>
 <polyline points="502,670 662,670"/>
 <polyline points="538,724 662,724"/>
 <polyline points="492.5,780 662,780"/>
</g>
<g class="dt">
 <circle cx="414.5" cy="259" r="3.8"/><circle cx="366" cy="275.5" r="3.8"/><circle cx="370" cy="307" r="3.8"/><circle cx="371.2" cy="338.8" r="3.8"/>
 <circle cx="385.6" cy="403" r="3.8"/><circle cx="434.3" cy="509.2" r="3.8"/><circle cx="405.4" cy="719.3" r="3.8"/>
 <circle cx="445.5" cy="260" r="3.8"/><circle cx="525.6" cy="260.5" r="3.8"/><circle cx="583.7" cy="295.4" r="3.8"/>
 <circle cx="508.7" cy="298" r="3.8"/><circle cx="558" cy="349.5" r="3.8"/><circle cx="549.4" cy="431" r="3.8"/>
 <circle cx="584" cy="554" r="3.8"/><circle cx="502" cy="670" r="3.8"/><circle cx="538" cy="724" r="3.8"/><circle cx="492.5" cy="780" r="3.8"/>
</g>

<!-- labels -->
<g class="lb">
 <text x="121" y="235.8" textLength="159" lengthAdjust="spacingAndGlyphs">1.Wireless Signal</text>
 <text x="155" y="279.6" textLength="124.5" lengthAdjust="spacingAndGlyphs">2.Sensitivity</text>
 <text x="142" y="310.8" textLength="131.5" lengthAdjust="spacingAndGlyphs">3.Water depth</text>
 <text x="83" y="345.8" textLength="192" lengthAdjust="spacingAndGlyphs">4.Water temperature</text>
 <text x="34" y="407.3" textLength="237.5" lengthAdjust="spacingAndGlyphs">5.Medium icon with depth</text>
 <text x="116.5" y="514.4" textLength="160.5" lengthAdjust="spacingAndGlyphs">6.Bottom contour</text>
 <text x="158.5" y="725.9" textLength="116" lengthAdjust="spacingAndGlyphs">7.Left Arrow</text>
 <text x="678.5" y="220.3" textLength="232.5" lengthAdjust="spacingAndGlyphs" style="font-size:21.5px">8.W-Sensor Battery Indicator</text>
 <text x="664" y="248.3" textLength="252" lengthAdjust="spacingAndGlyphs">9.Battery strength indicator</text>
 <text x="677" y="301" textLength="206.5" lengthAdjust="spacingAndGlyphs">10.Upper zoom range</text>
 <text x="679" y="331.8" textLength="165" lengthAdjust="spacingAndGlyphs">11.Water surface</text>
 <text x="679" y="355.3" textLength="265" lengthAdjust="spacingAndGlyphs">12.Small fish icon with depth</text>
 <text x="679" y="436.7" textLength="248" lengthAdjust="spacingAndGlyphs">13.Large fish icon with depth</text>
 <text x="670.7" y="560" textLength="205" lengthAdjust="spacingAndGlyphs">14.Lower zoom range</text>
 <text x="665.7" y="675.8" textLength="124.5" lengthAdjust="spacingAndGlyphs">15.Menu Key</text>
 <text x="665" y="730.7" textLength="142" lengthAdjust="spacingAndGlyphs">16.Right Arrow</text>
 <text x="665" y="786.7" textLength="167" lengthAdjust="spacingAndGlyphs">17.Power On/ Off</text>
</g>
</svg>
</body></html>
